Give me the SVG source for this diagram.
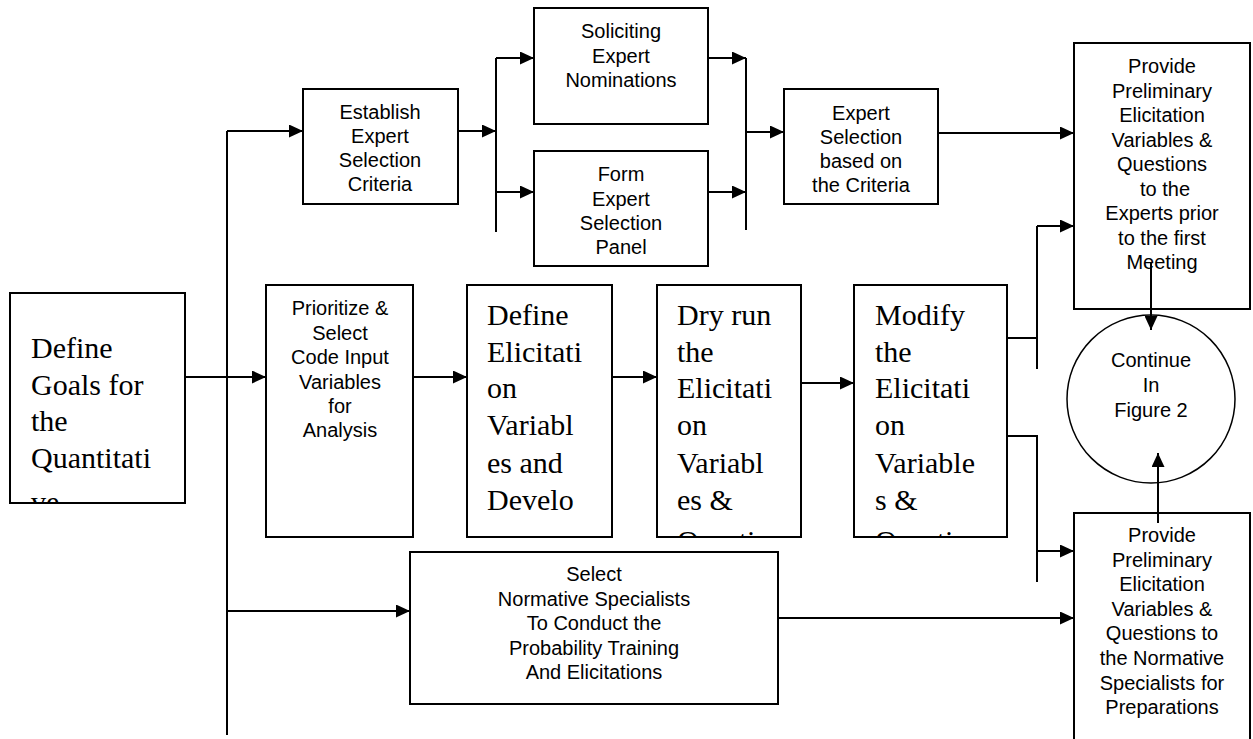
<svg xmlns="http://www.w3.org/2000/svg" width="1253" height="739" viewBox="0 0 1253 739">
  <style>
    .box { fill: #fff; stroke: #000; stroke-width: 2; }
    .frame { fill: none; stroke: #000; stroke-width: 2; }
    .wire { fill: none; stroke: #000; stroke-width: 2; }
    .arrow { fill: none; stroke: #000; stroke-width: 2; marker-end: url(#head); }
    .sans { font-family: "Liberation Sans", Arial, sans-serif; font-size: 20px; fill: #000; text-anchor: middle; }
    .serif { font-family: "Liberation Serif", "Times New Roman", serif; font-size: 30px; fill: #000; }
  </style>
  <defs>
    <marker id="head" markerWidth="14" markerHeight="13" refX="14" refY="6.5" orient="auto" markerUnits="userSpaceOnUse">
      <path d="M0,0 L14,6.5 L0,13 Z" fill="#000"/>
    </marker>
    <clipPath id="clipGoals"><rect x="11" y="294" width="173" height="208"/></clipPath>
    <clipPath id="clipDefine"><rect x="468" y="286" width="143" height="250"/></clipPath>
    <clipPath id="clipDry"><rect x="658" y="286" width="142" height="250"/></clipPath>
    <clipPath id="clipModify"><rect x="855" y="286" width="151" height="250"/></clipPath>
  </defs>

  <rect width="1253" height="739" fill="#fff"/>

  <!-- connectors -->
  <g id="connectors">
    <!-- main trunk on the left -->
    <path class="wire" d="M227,131 V735"/>
    <path class="arrow" d="M227,131 H303"/>
    <path class="arrow" d="M227,611 H410"/>
    <path class="arrow" d="M185,377 H266"/>
    <!-- expert selection branch -->
    <path class="arrow" d="M458,131 H496"/>
    <path class="wire" d="M496,58 V232"/>
    <path class="arrow" d="M496,58 H534"/>
    <path class="arrow" d="M496,192 H534"/>
    <path class="arrow" d="M708,58 H746"/>
    <path class="arrow" d="M708,192 H746"/>
    <path class="wire" d="M746,58 V230"/>
    <path class="arrow" d="M746,132 H784"/>
    <path class="arrow" d="M938,133 H1074"/>
    <!-- middle row -->
    <path class="arrow" d="M413,377 H467"/>
    <path class="arrow" d="M612,377 H657"/>
    <path class="arrow" d="M801,383 H854"/>
    <!-- modify outputs -->
    <path class="wire" d="M1007,338 H1037 M1037,226 V369"/>
    <path class="arrow" d="M1037,226 H1074"/>
    <path class="wire" d="M1007,436 H1037 V582"/>
    <path class="arrow" d="M1037,551 H1074"/>
    <!-- normative specialists -->
    <path class="arrow" d="M778,618 H1074"/>
  </g>

  <g id="goals">
    <rect class="box" x="10" y="293" width="175" height="210"/>
    <g class="serif" clip-path="url(#clipGoals)">
      <text x="31" y="358">Define</text>
      <text x="31" y="395">Goals for</text>
      <text x="31" y="431">the</text>
      <text x="31" y="468">Quantitati</text>
      <text x="31" y="512">ve</text>
    </g>
    <rect class="frame" x="10" y="293" width="175" height="210"/>
  </g>

  <g id="establish">
    <rect class="box" x="303" y="89" width="155" height="115"/>
    <text class="sans" x="380" y="119">Establish</text>
    <text class="sans" x="380" y="143">Expert</text>
    <text class="sans" x="380" y="167">Selection</text>
    <text class="sans" x="380" y="191">Criteria</text>
  </g>

  <g id="soliciting">
    <rect class="box" x="534" y="8" width="174" height="116"/>
    <text class="sans" x="621" y="38">Soliciting</text>
    <text class="sans" x="621" y="63">Expert</text>
    <text class="sans" x="621" y="87">Nominations</text>
  </g>

  <g id="panel">
    <rect class="box" x="534" y="151" width="174" height="115"/>
    <text class="sans" x="621" y="181">Form</text>
    <text class="sans" x="621" y="206">Expert</text>
    <text class="sans" x="621" y="230">Selection</text>
    <text class="sans" x="621" y="254">Panel</text>
  </g>

  <g id="expert-selection">
    <rect class="box" x="784" y="89" width="154" height="115"/>
    <text class="sans" x="861" y="120">Expert</text>
    <text class="sans" x="861" y="144">Selection</text>
    <text class="sans" x="861" y="168">based on</text>
    <text class="sans" x="861" y="192">the Criteria</text>
  </g>

  <g id="prioritize">
    <rect class="box" x="266" y="285" width="147" height="252"/>
    <text class="sans" x="340" y="315">Prioritize &amp;</text>
    <text class="sans" x="340" y="340">Select</text>
    <text class="sans" x="340" y="364">Code Input</text>
    <text class="sans" x="340" y="389">Variables</text>
    <text class="sans" x="340" y="413">for</text>
    <text class="sans" x="340" y="437">Analysis</text>
  </g>

  <g id="define-variables">
    <rect class="box" x="467" y="285" width="145" height="252"/>
    <g class="serif" clip-path="url(#clipDefine)">
      <text x="487" y="325">Define</text>
      <text x="487" y="362">Elicitati</text>
      <text x="487" y="398">on</text>
      <text x="487" y="435">Variabl</text>
      <text x="487" y="473">es and</text>
      <text x="487" y="510">Develo</text>
    </g>
  </g>

  <g id="dry-run">
    <rect class="box" x="657" y="285" width="144" height="252"/>
    <g class="serif" clip-path="url(#clipDry)">
      <text x="677" y="325">Dry run</text>
      <text x="677" y="362">the</text>
      <text x="677" y="398">Elicitati</text>
      <text x="677" y="435">on</text>
      <text x="677" y="473">Variabl</text>
      <text x="677" y="510">es &amp;</text>
      <text x="677" y="551">Questi</text>
    </g>
    <rect class="frame" x="657" y="285" width="144" height="252"/>
  </g>

  <g id="modify">
    <rect class="box" x="854" y="285" width="153" height="252"/>
    <g class="serif" clip-path="url(#clipModify)">
      <text x="875" y="325">Modify</text>
      <text x="875" y="362">the</text>
      <text x="875" y="398">Elicitati</text>
      <text x="875" y="435">on</text>
      <text x="875" y="473">Variable</text>
      <text x="875" y="510">s &amp;</text>
      <text x="875" y="551">Questi</text>
    </g>
    <rect class="frame" x="854" y="285" width="153" height="252"/>
  </g>

  <g id="normative">
    <rect class="box" x="410" y="552" width="368" height="152"/>
    <text class="sans" x="594" y="581">Select</text>
    <text class="sans" x="594" y="606">Normative Specialists</text>
    <text class="sans" x="594" y="630">To Conduct the</text>
    <text class="sans" x="594" y="655">Probability Training</text>
    <text class="sans" x="594" y="679">And Elicitations</text>
  </g>

  <g id="provide-experts">
    <rect class="box" x="1074" y="43" width="176" height="266"/>
    <text class="sans" x="1162" y="73">Provide</text>
    <text class="sans" x="1162" y="98">Preliminary</text>
    <text class="sans" x="1162" y="122">Elicitation</text>
    <text class="sans" x="1162" y="147">Variables &amp;</text>
    <text class="sans" x="1162" y="171">Questions</text>
    <text class="sans" x="1165" y="196">to the</text>
    <text class="sans" x="1162" y="220">Experts prior</text>
    <text class="sans" x="1162" y="245">to the first</text>
    <text class="sans" x="1162" y="269">Meeting</text>
  </g>

  <g id="provide-normative">
    <rect class="box" x="1074" y="513" width="176" height="240"/>
    <text class="sans" x="1162" y="542">Provide</text>
    <text class="sans" x="1162" y="567">Preliminary</text>
    <text class="sans" x="1162" y="591">Elicitation</text>
    <text class="sans" x="1162" y="616">Variables &amp;</text>
    <text class="sans" x="1162" y="640">Questions to</text>
    <text class="sans" x="1162" y="665">the Normative</text>
    <text class="sans" x="1162" y="690">Specialists for</text>
    <text class="sans" x="1162" y="714">Preparations</text>
  </g>

  <g id="continue">
    <circle cx="1151" cy="399" r="84" fill="#fff" stroke="#000" stroke-width="1.5"/>
    <text class="sans" x="1151" y="367">Continue</text>
    <text class="sans" x="1151" y="392">In</text>
    <text class="sans" x="1151" y="417">Figure 2</text>
  </g>

  <!-- links into the connector circle, drawn over the boxes -->
  <g id="circle-links">
    <path class="arrow" d="M1151,262 V330"/>
    <path class="arrow" d="M1158,523 V453"/>
  </g>
</svg>
